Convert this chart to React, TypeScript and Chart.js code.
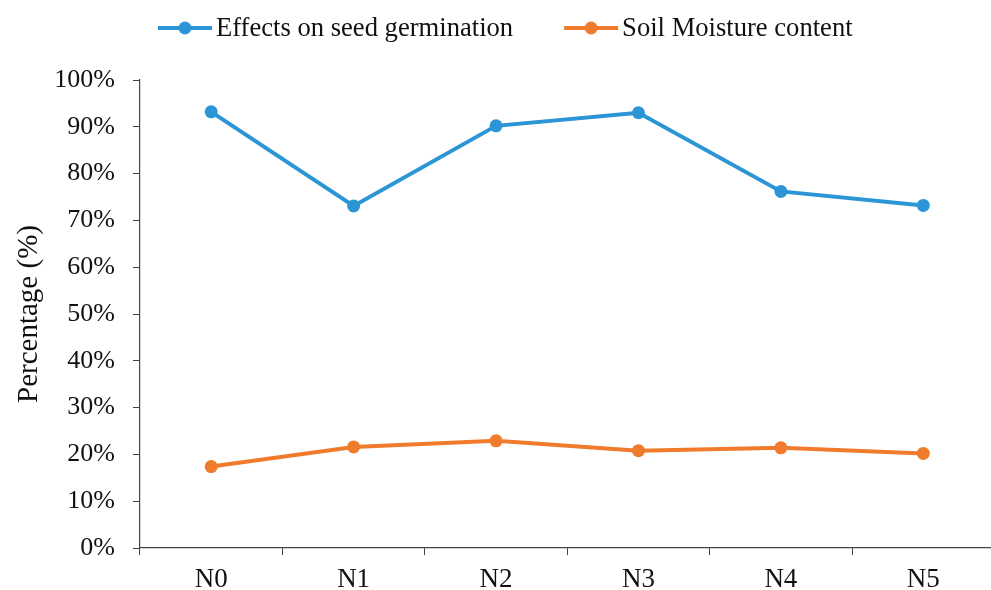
import React, { useEffect, useRef } from "react";
import { Chart, registerables } from "chart.js";

Chart.register(...registerables);

const categories = ["N0", "N1", "N2", "N3", "N4", "N5"];
const germination = [93.2, 73.1, 90.2, 93.0, 76.2, 73.2];
const soilMoisture = [17.4, 21.6, 22.9, 20.8, 21.4, 20.2];
const seriesLabels = ["Effects on seed germination", "Soil Moisture content"];
const yTickValues = [0, 10, 20, 30, 40, 50, 60, 70, 80, 90, 100];
const yTitle = "Percentage (%)";

const BLUE = "#2B95D6";
const ORANGE = "#F07B2C";
const FONT = "'Liberation Serif', 'Times New Roman', serif";

const legendPlugin = {
  id: "lineDotLegend",
  afterDraw(chart: any) {
    const ctx = chart.ctx;
    ctx.save();
    ctx.font = `26.6px ${FONT}`;
    ctx.textBaseline = "middle";
    ctx.textAlign = "left";
    let x = 158;
    const y = 28;
    chart.data.datasets.forEach((ds: any) => {
      const lineLen = 54;
      ctx.strokeStyle = ds.borderColor;
      ctx.lineWidth = 4;
      ctx.beginPath();
      ctx.moveTo(x, y);
      ctx.lineTo(x + lineLen, y);
      ctx.stroke();
      ctx.fillStyle = ds.borderColor;
      ctx.beginPath();
      ctx.arc(x + lineLen / 2, y, 6.5, 0, Math.PI * 2);
      ctx.fill();
      ctx.fillStyle = "#111";
      const tx = x + lineLen + 4;
      ctx.fillText(ds.label, tx, y + 1);
      const w = ctx.measureText(ds.label).width;
      x = tx + w + 51;
    });
    ctx.restore();
  },
};

export default function App() {
  const ref = useRef<HTMLCanvasElement>(null);
  useEffect(() => {
    if (!ref.current) return;
    const chart = new Chart(ref.current, {
      type: "line",
      data: {
        labels: categories,
        datasets: [
          {
            label: seriesLabels[0],
            data: germination,
            borderColor: BLUE,
            backgroundColor: BLUE,
            borderWidth: 4,
            pointRadius: 6.5,
            pointHoverRadius: 6.5,
            pointBackgroundColor: BLUE,
            pointBorderWidth: 0,
            tension: 0,
          },
          {
            label: seriesLabels[1],
            data: soilMoisture,
            borderColor: ORANGE,
            backgroundColor: ORANGE,
            borderWidth: 4,
            pointRadius: 6.5,
            pointHoverRadius: 6.5,
            pointBackgroundColor: ORANGE,
            pointBorderWidth: 0,
            tension: 0,
          },
        ],
      },
      options: {
        animation: false,
        responsive: false,
        devicePixelRatio: 1,
        layout: { padding: { top: 80, left: 0, right: 0, bottom: 0 } },
        plugins: {
          legend: { display: false },
          tooltip: { enabled: false },
        },
        scales: {
          x: {
            type: "category",
            offset: true,
            grid: {
              offset: true,
              drawOnChartArea: false,
              drawTicks: true,
              tickLength: 7,
              color: "#444",
            },
            border: { color: "#444", width: 1.2 },
            ticks: {
              color: "#111",
              font: { family: FONT, size: 27 },
              padding: 9,
              maxRotation: 0,
            },
            afterFit(scale: any) {
              scale.height = 42;
            },
          },
          y: {
            min: 0,
            max: 100,
            afterBuildTicks(scale: any) {
              scale.ticks = yTickValues.map((v) => ({ value: v }));
            },
            grid: {
              drawOnChartArea: false,
              drawTicks: true,
              tickLength: 7,
              color: "#444",
            },
            border: { color: "#444", width: 1.2 },
            ticks: {
              color: "#111",
              font: { family: FONT, size: 26 },
              padding: 18,
              callback: (v: any) => `${v}%`,
            },
            title: {
              display: true,
              text: yTitle,
              color: "#111",
              font: { family: FONT, size: 29 },
              padding: { top: 12, bottom: 0 },
            },
            afterFit(scale: any) {
              scale.width = 140;
            },
          },
        },
      },
      plugins: [legendPlugin],
    });
    return () => chart.destroy();
  }, []);
  return (
    <div
      style={{
        position: "fixed",
        left: 0,
        top: 0,
        width: 991,
        height: 590,
        overflow: "hidden",
        background: "#fff",
      }}
    >
      <canvas
        ref={ref}
        width={1001}
        height={590}
        style={{ width: 1001, height: 590, display: "block" }}
      />
    </div>
  );
}
